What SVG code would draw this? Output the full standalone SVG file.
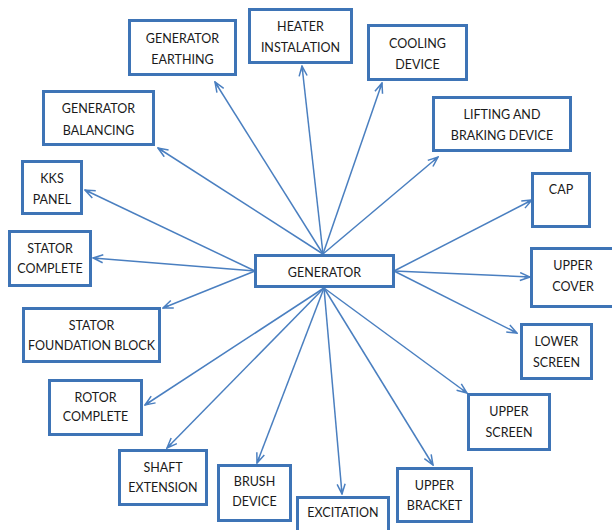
<svg xmlns="http://www.w3.org/2000/svg" width="612" height="530" viewBox="0 0 612 530">
  <style>
    .box { fill: #ffffff; stroke: #3e74b6; stroke-width: 3; }
    .lbl { font-family: Lato, "Liberation Sans", sans-serif; font-size: 12.5px; fill: #1a1a1a; text-anchor: middle; }
    .link { stroke: #4a7fc0; stroke-width: 1.5; fill: none; marker-end: url(#head); }
  </style>
  <defs>
    <marker id="head" viewBox="0 0 12 10" refX="11" refY="5" markerWidth="12" markerHeight="10" markerUnits="userSpaceOnUse" orient="auto">
      <path d="M1,1 L11,5 L1,9 M5,5 L11,5" fill="none" stroke="#4a7fc0" stroke-width="1.5"/>
    </marker>
  </defs>
  <rect width="612" height="530" fill="#ffffff"/>

  <g id="connectors">
    <!-- from top edge of GENERATOR -->
    <line class="link" x1="323" y1="254" x2="215" y2="82"/>
    <line class="link" x1="323" y1="254" x2="302" y2="66"/>
    <line class="link" x1="323" y1="254" x2="382" y2="83"/>
    <line class="link" x1="323" y1="254" x2="438" y2="157"/>
    <line class="link" x1="323" y1="254" x2="158" y2="148"/>
    <!-- from left edge -->
    <line class="link" x1="255" y1="271" x2="85" y2="190"/>
    <line class="link" x1="255" y1="271" x2="93" y2="258"/>
    <line class="link" x1="255" y1="271" x2="163" y2="308"/>
    <!-- from right edge -->
    <line class="link" x1="394" y1="271" x2="532" y2="200"/>
    <line class="link" x1="394" y1="271" x2="530" y2="277"/>
    <line class="link" x1="394" y1="271" x2="517" y2="333"/>
    <!-- from bottom edge -->
    <line class="link" x1="324" y1="288" x2="145" y2="405"/>
    <line class="link" x1="324" y1="288" x2="167" y2="448"/>
    <line class="link" x1="324" y1="288" x2="257" y2="463"/>
    <line class="link" x1="324" y1="288" x2="342" y2="494"/>
    <line class="link" x1="324" y1="288" x2="433" y2="465"/>
    <line class="link" x1="324" y1="288" x2="467" y2="393"/>
  </g>

  <g id="generator">
    <rect class="box" x="255.5" y="255.5" width="138" height="31"/>
    <text class="lbl" x="324.5" y="277">GENERATOR</text>
  </g>
  <g id="generator-earthing">
    <rect class="box" x="129.5" y="20.5" width="106" height="54"/>
    <text class="lbl" x="182.5" y="43">GENERATOR</text>
    <text class="lbl" x="182.5" y="64">EARTHING</text>
  </g>
  <g id="heater-instalation">
    <rect class="box" x="249.5" y="9.5" width="102" height="53"/>
    <text class="lbl" x="300.5" y="31">HEATER</text>
    <text class="lbl" x="300.5" y="52">INSTALATION</text>
  </g>
  <g id="cooling-device">
    <rect class="box" x="368.5" y="25.5" width="98" height="54"/>
    <text class="lbl" x="417.5" y="48">COOLING</text>
    <text class="lbl" x="417.5" y="69">DEVICE</text>
  </g>
  <g id="lifting-braking-device">
    <rect class="box" x="433.5" y="97.5" width="137" height="53"/>
    <text class="lbl" x="502" y="119">LIFTING AND</text>
    <text class="lbl" x="502" y="140">BRAKING DEVICE</text>
  </g>
  <g id="generator-balancing">
    <rect class="box" x="43.5" y="91.5" width="110" height="53"/>
    <text class="lbl" x="98.5" y="113">GENERATOR</text>
    <text class="lbl" x="98.5" y="135">BALANCING</text>
  </g>
  <g id="kks-panel">
    <rect class="box" x="22.5" y="161.5" width="59" height="52"/>
    <text class="lbl" x="52" y="183">KKS</text>
    <text class="lbl" x="52" y="204">PANEL</text>
  </g>
  <g id="cap">
    <rect class="box" x="532.5" y="173.5" width="57" height="53"/>
    <text class="lbl" x="561" y="194">CAP</text>
  </g>
  <g id="stator-complete">
    <rect class="box" x="9.5" y="231.5" width="81" height="54"/>
    <text class="lbl" x="50" y="253">STATOR</text>
    <text class="lbl" x="50" y="273">COMPLETE</text>
  </g>
  <g id="upper-cover">
    <rect class="box" x="531.5" y="248.5" width="84" height="58"/>
    <text class="lbl" x="573" y="270">UPPER</text>
    <text class="lbl" x="573" y="291">COVER</text>
  </g>
  <g id="stator-foundation-block">
    <rect class="box" x="23.5" y="308.5" width="136" height="53"/>
    <text class="lbl" x="91.5" y="330">STATOR</text>
    <text class="lbl" x="91.5" y="350">FOUNDATION BLOCK</text>
  </g>
  <g id="lower-screen">
    <rect class="box" x="521.5" y="324.5" width="70" height="54"/>
    <text class="lbl" x="556.5" y="346">LOWER</text>
    <text class="lbl" x="556.5" y="367">SCREEN</text>
  </g>
  <g id="rotor-complete">
    <rect class="box" x="49.5" y="380.5" width="92" height="54"/>
    <text class="lbl" x="95.5" y="402">ROTOR</text>
    <text class="lbl" x="95.5" y="421">COMPLETE</text>
  </g>
  <g id="upper-screen">
    <rect class="box" x="468.5" y="394.5" width="81" height="55"/>
    <text class="lbl" x="509" y="416">UPPER</text>
    <text class="lbl" x="509" y="437">SCREEN</text>
  </g>
  <g id="shaft-extension">
    <rect class="box" x="119.5" y="450.5" width="87" height="54"/>
    <text class="lbl" x="163" y="472">SHAFT</text>
    <text class="lbl" x="163" y="492">EXTENSION</text>
  </g>
  <g id="brush-device">
    <rect class="box" x="218.5" y="465.5" width="72" height="55"/>
    <text class="lbl" x="254.5" y="486">BRUSH</text>
    <text class="lbl" x="254.5" y="506">DEVICE</text>
  </g>
  <g id="upper-bracket">
    <rect class="box" x="397.5" y="468.5" width="74" height="53"/>
    <text class="lbl" x="434.5" y="490">UPPER</text>
    <text class="lbl" x="434.5" y="510">BRACKET</text>
  </g>
  <g id="excitation">
    <rect class="box" x="297.5" y="497.5" width="91" height="40"/>
    <text class="lbl" x="343" y="517">EXCITATION</text>
  </g>
</svg>
